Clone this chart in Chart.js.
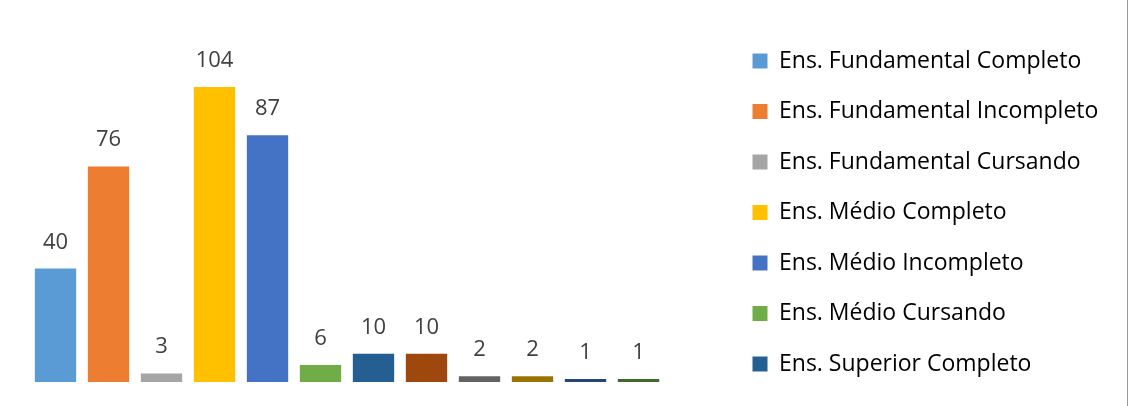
<!DOCTYPE html>
<html>
<head>
<meta charset="utf-8">
<script src="https://cdn.jsdelivr.net/npm/chart.js@4/dist/chart.umd.min.js"></script>
<style>
  html, body { margin: 0; padding: 0; background: #fff; }
  .wrap {
    position: relative;
    width: 1127px;
    height: 406px;
    border-right: 1px solid #9a9a9a;
  }
</style>
</head>
<body>
<div class="wrap"><canvas class="my-chart"></canvas></div>
<script>
const categories = [
  "Ens. Fundamental Completo",
  "Ens. Fundamental Incompleto",
  "Ens. Fundamental Cursando",
  "Ens. Médio Completo",
  "Ens. Médio Incompleto",
  "Ens. Médio Cursando",
  "Ens. Superior Completo",
  "Ens. Superior Incompleto",
  "Ens. Superior Cursando",
  "Pós-graduação Completo",
  "Pós-graduação Incompleto",
  "Pós-graduação Cursando"
];
const values = [40, 76, 3, 104, 87, 6, 10, 10, 2, 2, 1, 1];
const colors = [
  "#5B9BD5", "#ED7D31", "#A5A5A5", "#FFC000", "#4472C4", "#70AD47",
  "#255E91", "#9E480E", "#636363", "#997300", "#264478", "#43682B"
];
// the legend in the original only had room for the first 7 entries
const legendCount = 7;

const textFont = "'Open Sans', sans-serif";

const myChart = document.querySelector(".my-chart");

new Chart(myChart, {
  type: "bar",
  data: {
    labels: categories,
    datasets: [
      {
        label: "Total",
        data: values,
        backgroundColor: colors,
        borderWidth: 0,
        categoryPercentage: 1,
        barPercentage: 0.78,
        minBarLength: 3
      }
    ]
  },
  options: {
    responsive: true,
    maintainAspectRatio: false,
    animation: false,
    layout: {
      padding: { left: 29, right: 0, top: 19, bottom: 0 }
    },
    scales: {
      x: {
        ticks: { display: false },
        grid: { display: false },
        border: { display: false },
        afterFit: function (scale) {
          scale.height = 24;
        }
      },
      y: {
        position: "right",
        min: 0,
        max: 128,
        ticks: { display: false },
        grid: { display: false },
        border: { display: false },
        afterFit: function (scale) {
          scale.width = 60; // gap between bars and legend
        }
      }
    },
    plugins: {
      tooltip: { enabled: false },
      legend: {
        position: "right",
        labels: {
          color: "#595959",
          font: { family: textFont, size: 23 },
          boxWidth: 15,
          boxHeight: 15,
          padding: 27.5,
          generateLabels: function (chart) {
            return categories.slice(0, legendCount).map(function (name, i) {
              return {
                text: name,
                fillStyle: colors[i],
                strokeStyle: colors[i],
                lineWidth: 0,
                hidden: false,
                index: i
              };
            });
          }
        },
        onClick: function () {}
      }
    }
  },
  plugins: [
    {
      id: "legendWidth",
      beforeInit: function (chart) {
        const fit = chart.legend.fit;
        chart.legend.fit = function () {
          fit.bind(chart.legend)();
          this.width = 402;
        };
      }
    },
    {
      id: "barValues",
      afterDatasetsDraw: function (chart) {
        const ctx = chart.ctx;
        const meta = chart.getDatasetMeta(0);
        ctx.save();
        ctx.font = "22px " + textFont;
        ctx.fillStyle = "#404040";
        ctx.textAlign = "center";
        ctx.textBaseline = "alphabetic";
        meta.data.forEach(function (bar, i) {
          ctx.fillText(String(values[i]), bar.x, bar.y - 20);
        });
        ctx.restore();
      }
    }
  ]
});
</script>
</body>
</html>
